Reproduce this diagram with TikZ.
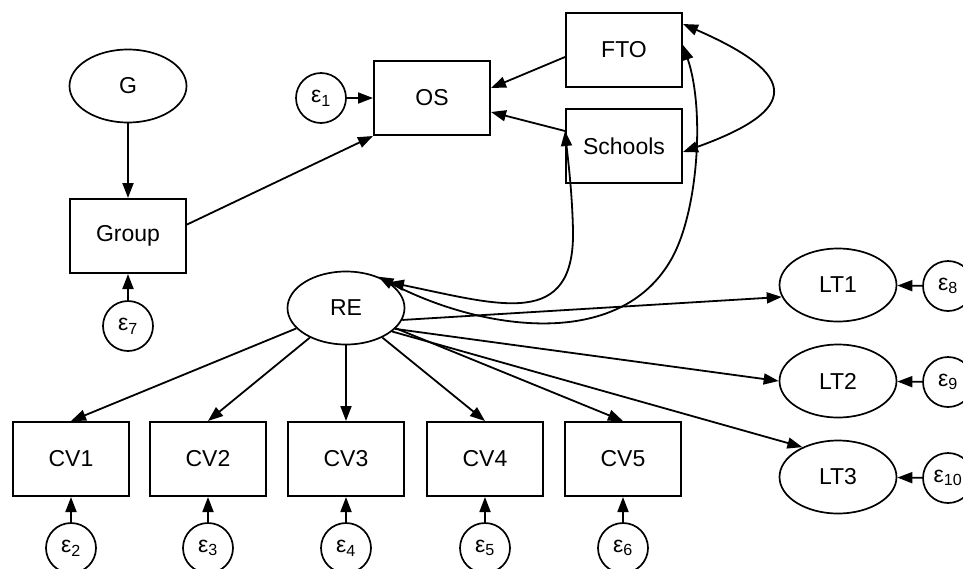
\documentclass[tikz,border=0pt]{standalone}
\usepackage{fontspec}
\setmainfont{Liberation Sans}
\usetikzlibrary{shapes.geometric,arrows.meta}
\begin{document}
\begin{tikzpicture}[x=1pt,y=-1pt,
  every node/.style={font=\fontsize{23}{27}\selectfont, inner sep=0pt},
  box/.style={draw, rectangle, minimum width=116pt, minimum height=74pt, line width=2pt},
  lat/.style={draw, ellipse, minimum width=117pt, minimum height=73pt, line width=1.7pt},
  err/.style={draw, circle, minimum size=50pt, line width=1.7pt},
  conn/.style={line width=1.8pt, -{Triangle[length=15pt,width=11pt]}},
  cov/.style={line width=1.8pt, {Triangle[length=15pt,width=11pt]}-{Triangle[length=15pt,width=11pt]}},
]
\useasboundingbox (0,0) rectangle (963,568);

% nodes
\node[lat] (G) at (128,86) {G};
\node[box] (Group) at (128,236) {Group};
\node[err] (e7) at (128,326) {ε\textsubscript{7}};
\node[box] (OS) at (432,98) {OS};
\node[err] (e1) at (321,98) {ε\textsubscript{1}};
\node[box] (FTO) at (624,50) {FTO};
\node[box] (Schools) at (624,146) {Schools};
\node[lat] (RE) at (346,308) {RE};
\node[lat] (LT1) at (838,285) {LT1};
\node[lat] (LT2) at (838,381) {LT2};
\node[lat] (LT3) at (838,477) {LT3};
\node[err] (e8) at (948,286) {ε\textsubscript{8}};
\node[err] (e9) at (948,382) {ε\textsubscript{9}};
\node[err] (e10) at (948,478) {ε\textsubscript{10}};
\node[box] (CV1) at (71,459) {CV1};
\node[box] (CV2) at (208,459) {CV2};
\node[box] (CV3) at (346,459) {CV3};
\node[box] (CV4) at (485,459) {CV4};
\node[box] (CV5) at (623,459) {CV5};
\node[err] (e2) at (71,548) {ε\textsubscript{2}};
\node[err] (e3) at (208,548) {ε\textsubscript{3}};
\node[err] (e4) at (346,548) {ε\textsubscript{4}};
\node[err] (e5) at (485,548) {ε\textsubscript{5}};
\node[err] (e6) at (623,548) {ε\textsubscript{6}};

% anchor points
\coordinate (ftoW) at ([yshift=-7pt]FTO.west);
\coordinate (schW) at ([yshift=15pt]Schools.west);
\coordinate (osE1) at ([yshift=10pt]OS.east);
\coordinate (osE2) at ([yshift=-14pt]OS.east);
\coordinate (ftoE1) at ([yshift=26pt]FTO.east);
\coordinate (ftoE2) at ([yshift=5pt]FTO.east);
\coordinate (schE) at ([yshift=-6pt]Schools.east);

% paths
\draw[conn] (G) -- (Group);
\draw[conn] (e7) -- (Group);
\draw[conn] (Group.11) -- (OS.south west);
\draw[conn] (e1) -- (OS);
\draw[conn] (ftoW) -- (osE1);
\draw[conn] (schW) -- (osE2);

\draw[cov] (ftoE1) .. controls (800,75) and (800,110) .. (schE);
\draw[cov] (RE.31) .. controls (500,305) and (575,330) .. (573,230)
   .. controls (572,190) and (568,160) .. (schW);
\draw[cov] (RE.44) .. controls (480,330) and (620,352) .. (672,258)
   .. controls (698,211) and (705,110) .. (ftoE2);

\draw[conn] (RE.-12) -- (LT1.192);
\draw[conn] (RE.-23) -- (LT2.west);
\draw[conn] (RE.-27) -- (LT3.140);
\draw[conn] (RE) -- (CV1.north);
\draw[conn] (RE) -- (CV2.north);
\draw[conn] (RE) -- (CV3.north);
\draw[conn] (RE) -- (CV4.north);
\draw[conn] (RE) -- (CV5.north);

\draw[conn] (e8) -- (LT1);
\draw[conn] (e9) -- (LT2);
\draw[conn] (e10) -- (LT3);
\draw[conn] (e2) -- (CV1);
\draw[conn] (e3) -- (CV2);
\draw[conn] (e4) -- (CV3);
\draw[conn] (e5) -- (CV4);
\draw[conn] (e6) -- (CV5);
\end{tikzpicture}
\end{document}
